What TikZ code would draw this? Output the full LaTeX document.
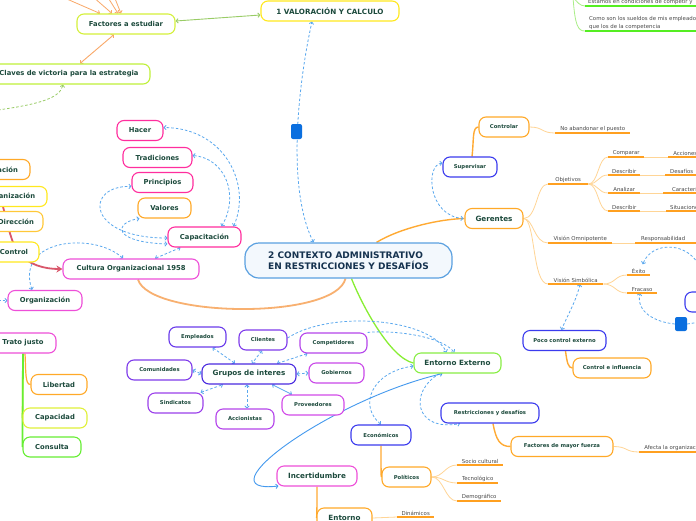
\documentclass[tikz,border=0pt]{standalone}
\usepackage{fontspec}
\setmainfont{DejaVu Sans}
\usetikzlibrary{arrows.meta,calc}
\pgfdeclarelayer{bg}
\pgfsetlayers{bg,main}
\definecolor{txt}{HTML}{1C4A3C}
\definecolor{cenT}{HTML}{15324F}
\definecolor{cenB}{HTML}{5AA0E0}
\definecolor{cenF}{HTML}{F3F8FD}
\definecolor{gtxt}{HTML}{4A4A4A}
\definecolor{pinkA}{HTML}{FF2E9E}
\definecolor{magA}{HTML}{EE4FD8}
\definecolor{orA}{HTML}{FFA928}
\definecolor{orB}{HTML}{FFC838}
\definecolor{yelA}{HTML}{FFE81E}
\definecolor{limeA}{HTML}{D4F03A}
\definecolor{limeB}{HTML}{BFF03A}
\definecolor{limeC}{HTML}{E0F03A}
\definecolor{greenA}{HTML}{88EE44}
\definecolor{greenB}{HTML}{66EE33}
\definecolor{bluA}{HTML}{3B3BEE}
\definecolor{grpA}{HTML}{4A2BE0}
\definecolor{vA}{HTML}{6A3BEB}
\definecolor{vB}{HTML}{7E3BEB}
\definecolor{vC}{HTML}{9B3FEB}
\definecolor{vD}{HTML}{B445EB}
\definecolor{vE}{HTML}{C947E8}
\definecolor{vF}{HTML}{D24AE8}
\definecolor{relc}{HTML}{5AA8EE}
\definecolor{hdlc}{HTML}{0B6FDF}
\definecolor{ulc}{HTML}{FFA020}
\definecolor{tlc}{HTML}{FFD596}
\definecolor{orl}{HTML}{FFAA33}
\definecolor{orT}{HTML}{F8B070}
\definecolor{orArr}{HTML}{F9A868}
\definecolor{grArr}{HTML}{99CC66}
\definecolor{grLine}{HTML}{88EE33}
\definecolor{grU}{HTML}{55EE22}
\definecolor{grT}{HTML}{AAEE88}
\definecolor{redl}{HTML}{D9576B}
\definecolor{bluSolid}{HTML}{4499EE}
\begin{document}
\begin{tikzpicture}[x=1pt,y=-1pt,>={Straight Barb[length=2pt,width=4.4pt]},
  box/.style={draw, rounded corners=7pt, fill=white, line width=1.1pt, minimum height=20pt, inner sep=0pt, text=txt},
  fs/.style={font=\fontsize{5.3}{6}\selectfont\bfseries},
  fm/.style={font=\fontsize{6.8}{8}\selectfont\bfseries},
  fl/.style={font=\fontsize{7.2}{9}\selectfont\bfseries},
  leaf/.style={inner xsep=0pt, inner ysep=1.6pt, text=gtxt, font=\fontsize{5.4}{6.5}\selectfont},
  uline/.style={draw=ulc, line width=1.4pt},
  thinl/.style={draw=tlc, line width=0.8pt},
  orline/.style={draw=orl, line width=1.4pt},
  relx/.style={draw=relc, line width=0.8pt, dash pattern=on 2.6pt off 2pt},
  hdl/.style={fill=hdlc, rounded corners=2pt, minimum width=11pt, minimum height=15pt, inner sep=0pt},
]
\useasboundingbox (0,0) rectangle (696,520);
\clip (0,0) rectangle (696,520);
\begin{pgfonlayer}{bg}
\fill[white] (0,0) rectangle (696,520);
\end{pgfonlayer}

% ---------- top left
\node[box,fm,draw=limeA,minimum width=98pt] (fae) at (126,24) {Factores a estudiar};
\node[box,draw=yelA,minimum width=138pt,font=\fontsize{7.2}{9}\selectfont\bfseries] (val) at (330,11) {1 VALORACIÓN Y CALCULO};
\node[box,fm,draw=limeB,minimum width=162pt] (claves) at (69,74) {Claves de victoria para la estrategia};
\coordinate (t1) at (60,-4);
\coordinate (t2) at (92,-4);
\coordinate (t3) at (107,-4);
\coordinate (t4) at (114,-4);
\coordinate (gl) at (-2,110);

% ---------- left column
\node[box,fm,draw=orA,minimum width=66pt] (plan) at (-3,169.5) {Planeación};
\node[box,fm,draw=yelA,minimum width=74pt] (orgL) at (10,196.5) {Organización};
\node[box,fm,draw=orB,minimum width=54pt] (dir) at (16,221.5) {Dirección};
\node[box,fm,draw=yelA,minimum width=50pt] (ctrl) at (14,252) {Control};
\node[box,fm,draw=magA,minimum width=136pt] (cult) at (131,269) {Cultura Organizacional 1958};
\node[box,fm,draw=magA,minimum width=74pt] (orgz) at (45,300.5) {Organización};
\node[box,fm,draw=pinkA,minimum width=46pt] (hacer) at (140,130.5) {Hacer};
\node[box,fm,draw=pinkA,minimum width=69pt] (trad) at (157.5,157.5) {Tradiciones};
\node[box,fm,draw=pinkA,minimum width=61pt] (princ) at (162.5,182.5) {Principios};
\node[box,fm,draw=orA,minimum width=53pt] (valores) at (164.5,208) {Valores};
\node[box,fm,draw=pinkA,minimum width=73pt] (capac) at (204.5,237) {Capacitación};
\coordinate (rs) at (-4,186);
\coordinate (ol) at (-2,300.5);

% ---------- centre
\node[box,draw=cenB,fill=cenF,line width=1.2pt,rounded corners=14pt,minimum width=207pt,minimum height=35pt,align=left,text=cenT,font=\fontsize{9}{11.5}\selectfont\bfseries] (center) at (348.5,260.5) {2 CONTEXTO ADMINISTRATIVO\\EN RESTRICCIONES Y DESAFÍOS};
\node[hdl] (h1) at (296.5,131.5) {};

% ---------- right
\node[box,fs,draw=bluA,minimum width=54pt] (superv) at (470,167) {Supervisar};
\node[box,fs,draw=orA,minimum width=50pt] (contr) at (504,127) {Controlar};
\node[box,fl,draw=orA,minimum width=58pt] (ger) at (494,218.5) {Gerentes};
\node[leaf,anchor=south west,minimum width=75pt] (noab) at (555,133) {No abandonar el puesto};
\node[leaf,anchor=south west,minimum width=40pt] (obj) at (548,184) {Objetivos};
\node[leaf,anchor=south west,minimum width=36pt] (comp) at (608,157) {Comparar};
\node[leaf,anchor=south west,minimum width=34pt] (acc) at (668,157) {Acciones};
\node[leaf,anchor=south west,minimum width=32pt] (desc1) at (608,175) {Describir};
\node[leaf,anchor=south west,minimum width=33pt] (desaf) at (665,175) {Desafíos};
\node[leaf,anchor=south west,minimum width=32pt] (anal) at (608,193) {Analizar};
\node[leaf,anchor=south west,minimum width=58pt] (carac) at (663,193) {Características};
\node[leaf,anchor=south west,minimum width=32pt] (desc2) at (608,211) {Describir};
\node[leaf,anchor=south west,minimum width=39pt] (situ) at (666,211) {Situaciones};
\node[leaf,anchor=south west,minimum width=64pt] (visomni) at (548,243) {Visión Omnipotente};
\node[leaf,anchor=south west,minimum width=56pt] (resp) at (635,243) {Responsabilidad};
\node[leaf,anchor=south west,minimum width=55pt] (vissimb) at (548,284) {Visión Simbólica};
\node[leaf,anchor=south west,minimum width=23pt] (exito) at (627,275) {Éxito};
\node[leaf,anchor=south west,minimum width=30pt] (fracaso) at (627,293) {Fracaso};
\node[box,fs,draw=bluA,minimum width=83pt] (poco) at (564.5,340.5) {Poco control externo};
\node[box,fs,draw=orA,minimum width=78pt] (ctlinf) at (612,368) {Control e influencia};
\node[box,draw=bluA,minimum width=40pt] (rnode) at (705,302) {};
\node[hdl,minimum width=12pt,minimum height=14pt] (h2) at (681,324) {};
\coordinate (ea) at (700,268);
\coordinate (eb) at (700,322);

% ---------- top right
\node[leaf,anchor=south west] (est) at (588,6) {Estamos en condiciones de competir y};
\node[leaf,anchor=south west,align=left,font=\fontsize{5.4}{7.6}\selectfont] (como) at (589,31) {Como son los sueldos de mis empleados\\que los de la competencia};
\coordinate (g0) at (573,-3);

% ---------- entorno
\node[box,fl,draw=greenA,minimum width=87pt] (entext) at (457.5,363) {Entorno Externo};
\node[box,fs,draw=bluA,minimum width=98pt] (restr) at (490,413) {Restricciones y desafíos};
\node[box,fs,draw=orA,minimum width=102pt] (fmf) at (562,446.5) {Factores de mayor fuerza};
\node[leaf,anchor=south west,minimum width=70pt] (afecta) at (639,452) {Afecta la organización};
\node[box,fs,draw=bluA,minimum width=60pt] (econ) at (381,435) {Económicos};
\node[box,fs,draw=orA,minimum width=49pt] (polit) at (406.5,477) {Políticos};
\node[leaf,anchor=south west,minimum width=46pt] (socio) at (457,465) {Socio cultural};
\node[leaf,anchor=south west,minimum width=41pt] (tecno) at (457,483) {Tecnológico};
\node[leaf,anchor=south west,minimum width=44pt] (demog) at (457,501) {Demográfico};
\node[box,fl,draw=magA,minimum width=80pt] (incert) at (317,476) {Incertidumbre};
\node[box,fl,draw=orA,minimum width=55pt] (ent2) at (344.5,518) {Entorno};
\node[leaf,anchor=south west,minimum width=37pt] (dinam) at (397,517) {Dinámicos};

% ---------- grupos
\node[box,fl,draw=grpA,minimum width=94pt] (grupos) at (249,374) {Grupos de interes};
\node[box,fs,draw=vA,minimum width=57pt] (emple) at (197.5,337) {Empleados};
\node[box,fs,draw=vB,minimum width=48pt] (client) at (263,340) {Clientes};
\node[box,fs,draw=vD,minimum width=67pt] (compet) at (333.5,343) {Competidores};
\node[box,fs,draw=vB,minimum width=65pt] (comun) at (159.5,370) {Comunidades};
\node[box,fs,draw=vE,minimum width=55pt] (gobier) at (336.5,373) {Gobiernos};
\node[box,fs,draw=vC,minimum width=55pt] (sindic) at (175.5,403) {Sindicatos};
\node[box,fs,draw=vF,minimum width=62pt] (provee) at (313,405) {Proveedores};
\node[box,fs,draw=vD,minimum width=58pt] (accion) at (245,419) {Accionistas};

% ---------- trato justo
\node[box,fm,draw=magA,minimum width=66pt] (trato) at (23,343) {Trato justo};
\node[box,fm,draw=orA,minimum width=56pt] (libert) at (59,384.5) {Libertad};
\node[box,fm,draw=limeC,minimum width=64pt] (capaci) at (55,418) {Capacidad};
\node[box,fm,draw=greenB,minimum width=58pt] (consul) at (52,447) {Consulta};

% ---------- underlines
\foreach \n in {noab,obj,comp,desc1,anal,desc2,visomni,vissimb,exito,fracaso,socio,tecno,demog,dinam}
  \draw[uline] (\n.south west) -- (\n.south east);
\foreach \n in {acc,desaf,carac,situ,resp,afecta}
  \draw[uline] (\n.south west) -- ++(70,0);
\draw[uline,draw=grU] ([xshift=-3pt]est.south west) -- ++(120,0);
\draw[uline,draw=grU] ([xshift=-4pt]como.south west) -- ++(120,0);

\begin{pgfonlayer}{bg}
% top left
\foreach \t/\s in {t1/-26,t2/-14,t3/-8,t4/-5}
  \draw[draw=orArr,line width=0.8pt,->] (\t) -- ([xshift=\s pt]fae.north);
\draw[draw=grArr,line width=0.9pt,<->] ([yshift=3pt]fae.east) -- ([yshift=-4pt]val.west);
\draw[draw=orArr,line width=0.9pt,<->] ([xshift=-12pt]fae.south) -- ([xshift=11pt]claves.north);
\draw[draw=grArr,line width=0.8pt,dash pattern=on 2.6pt off 2pt,->] (gl) .. controls (40,104) and (60,98) .. ([xshift=-6pt]claves.south);
\draw[relx,<->] ([xshift=-35pt]center.north) .. controls (285,185) and (300,75) .. ([xshift=-18pt]val.south);

% left
\draw[draw=redl,line width=1.8pt,-{Stealth[length=6pt,width=7pt]}] (rs) .. controls (5,205) and (8,238) .. (18,252) .. controls (28,265) and (45,269) .. (cult.west);
\draw[draw=orT,line width=1.8pt] ([xshift=7pt]cult.south) .. controls (150,318) and (335,320) .. ([xshift=-3pt]center.south);
\draw[relx,<->] ([xshift=29pt]capac.north) .. controls (252,185) and (225,128) .. ([yshift=3pt]hacer.east);
\draw[relx,<->] ([xshift=17pt]capac.north) .. controls (240,195) and (225,158) .. ([yshift=2pt]trad.east);
\draw[relx,<->] ([yshift=-1pt]capac.west) .. controls (85,238) and (85,185) .. ([yshift=-4pt]princ.west);
\draw[relx,<->] ([yshift=-7pt]capac.west) .. controls (110,242) and (115,222) .. ([xshift=2pt]valores.south west);
\draw[relx,<->] ([xshift=-24pt]capac.south) -- ([xshift=24pt]cult.north);
\draw[relx,<->] ([xshift=-8pt]cult.north) .. controls (95,232) and (15,238) .. ([xshift=-13pt]orgz.north);
\draw[relx,->] (ol) -- (orgz.west);

% centre to right
\draw[orline] ([xshift=28pt]center.north) .. controls (400,228) and (440,219) .. (ger.west);
\draw[draw=grLine,line width=1.3pt] ([xshift=3pt]center.south) .. controls (362,305) and (390,358) .. (entext.west);
\draw[relx,<->] ([yshift=4pt]superv.west) .. controls (425,165) and (428,216) .. ([xshift=-1pt]ger.west);
\draw[orline] ([xshift=2pt]superv.north) .. controls (474,140) and (472,127) .. (contr.west);
\draw[thinl] (contr.east) .. controls +(14,0) and +(-14,0) .. (noab.south west);
\draw[thinl] (ger.east) .. controls +(14,0) and +(-12,0) .. (obj.south west);
\draw[thinl] (ger.east) .. controls +(10,0) and +(-14,0) .. (visomni.south west);
\draw[thinl] (ger.east) .. controls +(12,0) and +(-16,0) .. (vissimb.south west);
\foreach \c in {comp,desc1,anal,desc2}
  \draw[thinl] (obj.south east) .. controls +(10,0) and +(-10,0) .. (\c.south west);
\foreach \a/\b in {comp/acc,desc1/desaf,anal/carac,desc2/situ,visomni/resp}
  \draw[thinl] (\a.south east) .. controls +(12,0) and +(-12,0) .. (\b.south west);
\foreach \c in {exito,fracaso}
  \draw[thinl] (vissimb.south east) .. controls +(12,0) and +(-12,0) .. (\c.south west);
\draw[relx,<->] ([xshift=32pt]vissimb.south west) .. controls (576,302) and (566,318) .. ([xshift=-3pt]poco.north);
\draw[orline] ([xshift=1pt]poco.south) .. controls (567,362) and (568,368) .. (ctlinf.west);
\draw[relx,->] (h2.west) .. controls (655,322) and (636,312) .. ([xshift=13pt]fracaso.south west);
\draw[relx] (h2.east) -- (eb);
\draw[relx,->] (ea) .. controls (690,242) and (652,240) .. ([xshift=4pt,yshift=2pt]exito.north);

% top right
\draw[draw=grT,line width=0.8pt] (g0) .. controls (577,2) and (580,6) .. ([xshift=-3pt]est.south west);
\draw[draw=grT,line width=0.8pt] (g0) .. controls (575,26) and (578,31) .. ([xshift=-4pt]como.south west);

% entorno
\draw[orline] ([xshift=3pt]restr.south) .. controls (496,440) and (500,446.5) .. (fmf.west);
\draw[thinl] (fmf.east) .. controls +(14,0) and +(-14,0) .. (afecta.south west);
\draw[orline] (econ.south) .. controls (381,468) and (381,477) .. (polit.west);
\foreach \c in {socio,tecno,demog}
  \draw[thinl] (polit.east) .. controls +(12,0) and +(-12,0) .. (\c.south west);
\draw[orline] (incert.south) .. controls (317,505) and (317,518) .. (ent2.west);
\draw[thinl] (ent2.east) .. controls +(12,0) and +(-12,0) .. (dinam.south west);
\draw[relx,->] ([yshift=2pt]client.east) .. controls (330,310) and (430,318) .. ([xshift=-11pt]entext.north);
\draw[relx,->] (compet.north east) .. controls (390,330) and (440,335) .. ([xshift=-3pt]entext.north);
\draw[relx,<->] ([yshift=-3pt]entext.west) .. controls (372,372) and (358,405) .. (econ.north);
\draw[relx,->] ([xshift=-18pt]entext.south) .. controls (408,392) and (415,432) .. ([xshift=-30pt]restr.south);
\draw[draw=bluSolid,line width=0.9pt,<->] ([xshift=2pt,yshift=-10pt]incert.west) .. controls (200,495) and (330,400) .. ([xshift=-15pt]entext.south);

% grupos
\draw[relx,<->] ([xshift=15pt]emple.south) -- ([xshift=-14pt]grupos.north);
\draw[relx,<->] ([xshift=-1pt]client.south) -- ([xshift=3pt]grupos.north);
\draw[relx,<->] ([xshift=-26pt]compet.south) -- ([xshift=28pt]grupos.north);
\draw[relx,<->] (comun.east) -- (grupos.west);
\draw[relx,<->] (grupos.east) -- (gobier.west);
\draw[relx,<->] ([xshift=-3pt]sindic.north east) -- ([xshift=-26pt]grupos.south);
\draw[relx,<->] ([xshift=-2pt]grupos.south) -- ([xshift=2pt]accion.north);
\draw[draw=relc,line width=0.8pt,<->] ([xshift=23pt]grupos.south) -- ([xshift=-21pt]provee.north);

% trato justo
\draw[draw=limeC,line width=1.6pt] (trato.south) -- (capaci.west);
\draw[draw=greenB,line width=1.8pt] (trato.south) -- (consul.west);
\draw[draw=orl,line width=1.2pt] ([xshift=2pt]trato.south) .. controls (26,372) and (25,384.5) .. (libert.west);
\end{pgfonlayer}
\end{tikzpicture}
\end{document}
